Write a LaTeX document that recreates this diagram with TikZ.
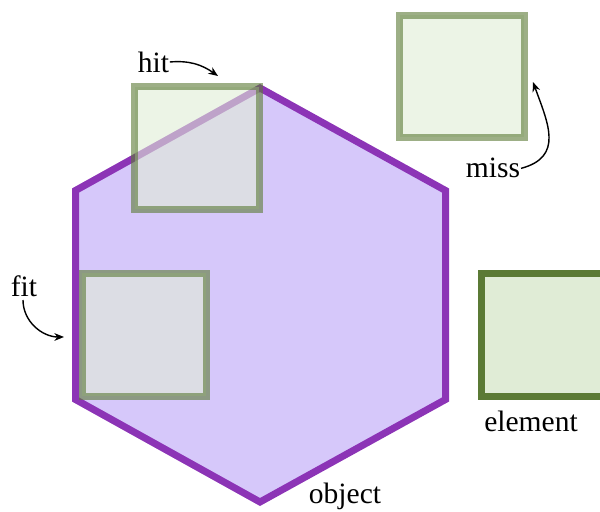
\documentclass[tikz,border=0pt]{standalone}
\usepackage{fontspec}
\setmainfont{Liberation Serif}
\usepackage{tikz}
\usetikzlibrary{arrows.meta}

\definecolor{objline}{RGB}{140,52,182}
\definecolor{objfill}{RGB}{214,200,250}
\definecolor{elemline}{RGB}{91,122,53}
\definecolor{elemfill}{RGB}{224,236,214}

\tikzset{
  object/.style={draw=objline, fill=objfill, line width=0.14cm, line join=miter},
  element/.style={draw=elemline, fill=elemfill, line width=0.14cm},
  probe/.style={element, opacity=0.6},
  label/.style={font=\fontsize{16.8}{20}\selectfont},
  pointer/.style={line width=0.8pt, -{Stealth[length=5.5pt,width=4.4pt]}}
}

\begin{document}
\begin{tikzpicture}[scale=0.2]
        \tikzstyle{every node}+=[inner sep=0pt]
        \useasboundingbox (0,0) rectangle (60,-51.2);
        \clip (0,0) rectangle (60,-51.2);
        % the object
        \draw [object] (26,-8.8) -- (44.55,-19.05) -- (44.55,-39.95) -- (26,-50.2) -- (7.55,-39.95) -- (7.55,-19.05) -- cycle;
        \draw (34.5,-49.6) node [label] (lblobj) {object};
        % elements tested against it
        \draw [probe] (13.47,-8.7) rectangle (25.9,-20.95);
        \draw [probe] (39.95,-1.52) rectangle (52.4,-13.75);
        \draw [probe] (8.2,-27.35) rectangle (20.6,-39.6);
        \draw [element] (48.1,-27.35) rectangle (60.5,-39.6);
        \draw (53.1,-42.1) node [label] (lblelem) {element};
        % labels with pointers
        \draw (15.35,-6.2) node [label] (lblhit) {hit};
        \coordinate (hittip) at (21.8,-7.6);
        \draw [pointer] ([xshift=1pt]lblhit.east) to [out=5, in=145] (hittip);
        \draw (49.3,-16.8) node [label] (lblmiss) {miss};
        \coordinate (misstip) at (53.3,-8.2);
        \draw [pointer] ([xshift=2pt,yshift=-1pt]lblmiss.east) to [out=15, in=-70, looseness=1.3] (misstip);
        \draw (2.4,-28.6) node [label] (lblfit) {fit};
        \coordinate (fittip) at (6.4,-33.7);
        \draw [pointer] (2.3,-30) to [out=-90, in=180] (fittip);
\end{tikzpicture}
\end{document}
